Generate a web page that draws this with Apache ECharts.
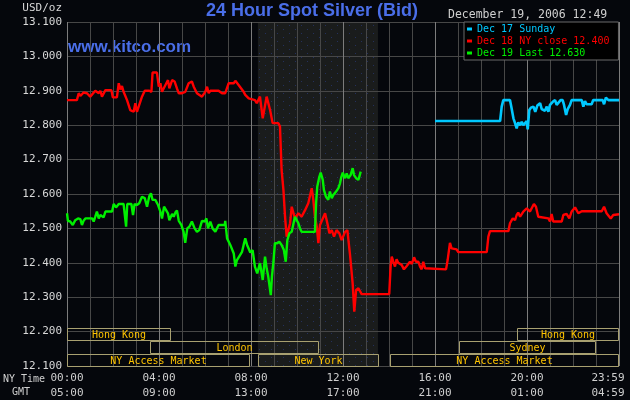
<!DOCTYPE html>
<html><head><meta charset="utf-8">
<script src="https://cdn.jsdelivr.net/npm/echarts/dist/echarts.min.js"></script>
<style>html,body{margin:0;padding:0;background:#05070c}#c{width:630px;height:400px}</style>
</head><body><div id="c"></div><script>
// ---- data ----
const seriesNames = ['Dec 17 Sunday', 'Dec 18 NY close 12.400', 'Dec 19 Last 12.630'];
const dec17 = [[16.0,12.812],[18.83,12.812],[18.90,12.854],[18.97,12.873],[19.26,12.873],[19.33,12.849],[19.41,12.820],[19.48,12.806],[19.55,12.791],[19.62,12.808],[19.70,12.800],[19.77,12.810],[19.84,12.800],[19.91,12.796],[19.99,12.812],[20.03,12.788],[20.10,12.844],[20.17,12.851],[20.28,12.854],[20.36,12.839],[20.45,12.857],[20.57,12.864],[20.64,12.847],[20.71,12.851],[20.78,12.842],[20.86,12.854],[20.93,12.839],[21.00,12.859],[21.12,12.868],[21.22,12.873],[21.29,12.859],[21.36,12.864],[21.46,12.873],[21.55,12.873],[21.61,12.859],[21.70,12.830],[21.77,12.847],[21.87,12.859],[21.94,12.873],[22.38,12.873],[22.45,12.854],[22.52,12.870],[22.59,12.861],[22.81,12.861],[22.88,12.873],[23.29,12.873],[23.35,12.861],[23.43,12.880],[23.54,12.873],[24.0,12.873]];
const dec18 = [[0,12.873],[0.43,12.873],[0.51,12.893],[0.58,12.885],[0.72,12.895],[0.87,12.893],[1.01,12.883],[1.09,12.888],[1.23,12.900],[1.38,12.893],[1.45,12.900],[1.52,12.883],[1.59,12.881],[1.67,12.902],[1.93,12.902],[1.99,12.881],[2.17,12.881],[2.25,12.922],[2.32,12.904],[2.39,12.914],[2.46,12.897],[2.61,12.873],[2.75,12.844],[2.83,12.839],[2.90,12.839],[2.97,12.864],[3.04,12.839],[3.12,12.844],[3.26,12.883],[3.38,12.900],[3.58,12.900],[3.67,12.897],[3.72,12.953],[3.91,12.953],[3.99,12.912],[4.06,12.922],[4.13,12.897],[4.28,12.917],[4.39,12.931],[4.45,12.907],[4.57,12.931],[4.68,12.927],[4.78,12.907],[4.86,12.893],[5.00,12.893],[5.14,12.897],[5.29,12.922],[5.43,12.927],[5.51,12.912],[5.65,12.893],[5.87,12.883],[6.01,12.897],[6.09,12.912],[6.16,12.893],[6.23,12.900],[6.59,12.900],[6.74,12.893],[6.81,12.897],[6.88,12.893],[7.03,12.922],[7.25,12.922],[7.32,12.929],[7.46,12.917],[7.68,12.897],[7.75,12.888],[7.90,12.878],[7.97,12.873],[8.17,12.873],[8.25,12.864],[8.39,12.883],[8.51,12.820],[8.68,12.883],[8.83,12.844],[8.94,12.806],[9.19,12.806],[9.26,12.796],[9.33,12.670],[9.41,12.612],[9.48,12.534],[9.55,12.476],[9.70,12.515],[9.77,12.563],[9.91,12.529],[10.06,12.544],[10.20,12.534],[10.35,12.553],[10.49,12.573],[10.64,12.617],[10.71,12.583],[10.78,12.534],[10.86,12.505],[10.93,12.457],[11.00,12.510],[11.07,12.515],[11.22,12.544],[11.32,12.515],[11.41,12.486],[11.51,12.495],[11.61,12.476],[11.72,12.495],[11.84,12.486],[11.94,12.466],[12.09,12.490],[12.19,12.495],[12.30,12.427],[12.42,12.340],[12.49,12.258],[12.57,12.321],[12.67,12.326],[12.81,12.309],[14.01,12.309],[14.07,12.389],[14.12,12.418],[14.19,12.403],[14.26,12.389],[14.33,12.410],[14.40,12.400],[14.48,12.403],[14.55,12.394],[14.65,12.381],[14.77,12.391],[14.91,12.403],[14.99,12.397],[15.09,12.416],[15.17,12.403],[15.28,12.403],[15.35,12.389],[15.42,12.381],[15.49,12.403],[15.57,12.384],[15.61,12.381],[16.48,12.381],[16.55,12.408],[16.65,12.458],[16.72,12.442],[16.80,12.439],[16.94,12.439],[17.01,12.431],[18.25,12.431],[18.32,12.476],[18.39,12.492],[19.19,12.492],[19.26,12.515],[19.38,12.529],[19.48,12.524],[19.55,12.539],[19.62,12.546],[19.70,12.534],[19.84,12.549],[19.99,12.558],[20.13,12.549],[20.20,12.553],[20.30,12.571],[20.39,12.563],[20.49,12.534],[20.53,12.529],[20.93,12.529],[21.00,12.520],[21.07,12.542],[21.14,12.520],[21.51,12.520],[21.58,12.539],[21.72,12.542],[21.84,12.529],[21.94,12.549],[22.09,12.561],[22.23,12.544],[22.30,12.549],[22.38,12.550],[23.25,12.550],[23.35,12.563],[23.46,12.544],[23.54,12.549],[23.64,12.529],[23.75,12.539],[23.83,12.541],[24.0,12.541]];
const dec19 = [[0,12.544],[0.04,12.522],[0.14,12.520],[0.25,12.510],[0.36,12.524],[0.48,12.529],[0.58,12.527],[0.65,12.510],[0.72,12.522],[0.80,12.529],[1.09,12.529],[1.16,12.520],[1.23,12.534],[1.30,12.549],[1.38,12.529],[1.45,12.539],[1.52,12.534],[1.59,12.532],[1.67,12.549],[1.96,12.549],[2.03,12.571],[2.13,12.561],[2.25,12.571],[2.46,12.571],[2.57,12.505],[2.62,12.571],[2.80,12.571],[2.87,12.539],[2.94,12.571],[3.04,12.568],[3.14,12.573],[3.26,12.592],[3.38,12.588],[3.48,12.563],[3.58,12.594],[3.65,12.602],[3.72,12.583],[3.84,12.583],[3.96,12.568],[4.06,12.549],[4.13,12.529],[4.22,12.563],[4.30,12.563],[4.39,12.544],[4.45,12.524],[4.51,12.520],[4.57,12.542],[4.64,12.534],[4.71,12.546],[4.78,12.552],[4.86,12.522],[4.97,12.510],[5.07,12.490],[5.14,12.458],[5.23,12.500],[5.32,12.505],[5.43,12.520],[5.55,12.500],[5.65,12.490],[5.75,12.495],[5.87,12.522],[5.99,12.520],[6.06,12.529],[6.13,12.500],[6.23,12.520],[6.33,12.500],[6.45,12.490],[6.52,12.495],[6.59,12.510],[6.86,12.510],[6.88,12.522],[6.96,12.471],[7.10,12.452],[7.25,12.427],[7.32,12.389],[7.39,12.408],[7.46,12.403],[7.61,12.432],[7.68,12.452],[7.75,12.471],[7.83,12.452],[7.90,12.457],[7.97,12.430],[8.07,12.437],[8.17,12.389],[8.27,12.369],[8.39,12.399],[8.51,12.350],[8.61,12.418],[8.68,12.384],[8.75,12.360],[8.86,12.306],[8.91,12.360],[8.97,12.399],[9.04,12.457],[9.14,12.457],[9.23,12.461],[9.33,12.452],[9.43,12.437],[9.51,12.403],[9.58,12.466],[9.67,12.486],[9.77,12.490],[9.91,12.534],[9.99,12.539],[10.06,12.515],[10.13,12.500],[10.20,12.490],[10.78,12.490],[10.83,12.573],[10.88,12.621],[10.97,12.650],[11.03,12.662],[11.12,12.641],[11.17,12.612],[11.26,12.592],[11.36,12.583],[11.43,12.607],[11.51,12.588],[11.58,12.597],[11.70,12.607],[11.80,12.617],[11.87,12.631],[11.93,12.650],[11.99,12.662],[12.09,12.646],[12.16,12.660],[12.23,12.646],[12.33,12.655],[12.42,12.675],[12.48,12.655],[12.57,12.646],[12.67,12.641],[12.77,12.665]];
const xTicks = [0, 4, 8, 12, 16, 20, 24];
const nyLabels = ['00:00', '04:00', '08:00', '12:00', '16:00', '20:00', '23:59'];
const gmtLabels = ['05:00', '09:00', '13:00', '17:00', '21:00', '01:00', '04:59'];
const yMin = 12.1, yMax = 13.1, yStep = 0.1;
const nyShade = [[8.3, 13.52]];
const sessionNames = ['Hong Kong', 'London', 'NY Access Market', 'New York', 'NY Access Market', 'Sydney', 'Hong Kong'];
const sessionStart = [0, 3.62, 0, 8.32, 14.06, 17.04, 19.55];
const sessionEnd = [4.52, 10.97, 7.96, 13.55, 24, 22.99, 24];
const sessionRow = [0, 1, 2, 2, 2, 1, 0];
// ---- chart ----
const chart = echarts.init(document.getElementById('c'), null, {renderer: 'canvas'});
const MONO = '"DejaVu Sans Mono", monospace';
const sessData = sessionStart.map((s, i) => [s, sessionEnd[i], sessionRow[i]]);
// faint dotted texture for the New York session shading
const pat = document.createElement('canvas');
pat.width = 12; pat.height = 8;
const pctx = pat.getContext('2d');
pctx.fillStyle = '#1a1c1c'; pctx.fillRect(0, 0, 12, 8);
pctx.fillStyle = '#24305c';
pctx.fillRect(1, 1, 1, 1); pctx.fillRect(7, 5, 1, 1);
const option = {
  backgroundColor: '#05070c',
  animation: false,
  grid: {left: 67, right: 11, top: 22, bottom: 34, containLabel: false, outerBoundsMode: 'none'},
  legend: {
    orient: 'vertical', left: 464, top: 22, selectedMode: false,
    backgroundColor: '#000', borderColor: '#6a6a6a', borderWidth: 1,
    padding: [2, 9, 2, 3], itemWidth: 5, itemHeight: 3, itemGap: 2, itemTextGap: 4,
    textStyle: {fontFamily: MONO, fontSize: 10},
    data: [
      {name: seriesNames[0], icon: 'rect', textStyle: {color: '#00c8ff'}},
      {name: seriesNames[1], icon: 'rect', textStyle: {color: '#ff0000'}},
      {name: seriesNames[2], icon: 'rect', textStyle: {color: '#00f000'}}
    ]
  },
  xAxis: {
    type: 'value', min: 0, max: 24, interval: 1,
    axisLine: {show: false}, axisTick: {show: false},
    splitLine: {show: true, lineStyle: {color: ['#7c7c7c', '#474747', '#474747', '#474747'], width: 1}},
    axisLabel: {
      customValues: xTicks, margin: 5,
      formatter: v => {
        const i = xTicks.indexOf(v);
        if (i < 0) return '';
        if (i === xTicks.length - 1) return '{c|' + nyLabels[i] + '}\n{d|' + gmtLabels[i] + '}';
        return '{a|' + nyLabels[i] + '}\n{b|' + gmtLabels[i] + '}';
      },
      rich: {
        a: {fontFamily: MONO, fontSize: 11, color: '#cfcfcf', lineHeight: 15},
        b: {fontFamily: MONO, fontSize: 11, color: '#cfcfcf', lineHeight: 15},
        c: {fontFamily: MONO, fontSize: 11, color: '#cfcfcf', lineHeight: 15, padding: [0, 22, 0, 0]},
        d: {fontFamily: MONO, fontSize: 11, color: '#cfcfcf', lineHeight: 15, padding: [0, 22, 0, 0]}
      }
    }
  },
  yAxis: {
    type: 'value', min: yMin, max: yMax, interval: yStep,
    axisLine: {show: false}, axisTick: {show: false},
    splitLine: {show: true, lineStyle: {color: '#474747', width: 1}},
    axisLabel: {formatter: v => v.toFixed(3), color: '#d8d8d8', fontFamily: MONO, fontSize: 11, margin: 5}
  },
  graphic: [
    {type: 'text', left: 206, top: 2, style: {text: '24 Hour Spot Silver (Bid)', fill: '#4a6ee8', font: 'bold 18px "Liberation Sans", Arial, sans-serif'}},
    {type: 'text', left: 68, top: 39, style: {text: 'www.kitco.com', fill: '#4a6ee8', font: 'bold 17px "Liberation Sans", Arial, sans-serif'}},
    {type: 'text', left: 448, top: 9, style: {text: 'December 19, 2006 12:49', fill: '#d0d0d0', font: '11.5px ' + MONO}},
    {type: 'text', right: 568, top: 3, style: {text: 'USD/oz', fill: '#d8d8d8', font: '11px ' + MONO}},
    {type: 'text', left: 3, top: 374, style: {text: 'NY Time', fill: '#d0d0d0', font: '10px ' + MONO}},
    {type: 'text', left: 12, top: 387, style: {text: 'GMT', fill: '#d0d0d0', font: '10px ' + MONO}}
  ],
  series: [
    {type: 'custom', name: 'shade', z: -1, silent: true, clip: false, data: nyShade,
      renderItem: (params, api) => {
        const p0 = api.coord([api.value(0), yMax]);
        const p1 = api.coord([api.value(1), yMin]);
        return {type: 'rect', shape: {x: p0[0], y: p0[1], width: p1[0] - p0[0], height: p1[1] - p0[1]}, style: {fill: {image: pat, repeat: 'repeat'}}};
      }},
    {type: 'line', name: seriesNames[1], data: dec18, showSymbol: false, color: '#ff0000', lineStyle: {width: 2.4, color: '#ff0000'}},
    {type: 'line', name: seriesNames[2], data: dec19, showSymbol: false, color: '#00f000', lineStyle: {width: 2.4, color: '#00f000'}},
    {type: 'line', name: seriesNames[0], data: dec17, showSymbol: false, color: '#00c8ff', lineStyle: {width: 2.6, color: '#00c8ff'}},
    {type: 'custom', name: 'sessions', z: 5, silent: true, clip: false, data: sessData,
      renderItem: (params, api) => {
        const p0 = api.coord([api.value(0), yMin]);
        const p1 = api.coord([api.value(1), yMin]);
        const r = api.value(2);
        const x0 = Math.round(p0[0]) + 0.5, x1 = Math.round(p1[0]) - 0.5;
        const top = Math.round(p0[1] - 38 + 13 * r) + 0.5;
        return {type: 'group', children: [
          {type: 'rect', shape: {x: x0, y: top, width: x1 - x0, height: 12}, style: {fill: null, stroke: '#a8a070', lineWidth: 1}},
          {type: 'text', x: (x0 + x1) / 2, y: top + 6.5, style: {text: sessionNames[params.dataIndex], fill: '#ffc400', font: '10px ' + MONO, align: 'center', verticalAlign: 'middle'}}
        ]};
      }}
  ]
};
chart.setOption(option);
</script></body></html>
